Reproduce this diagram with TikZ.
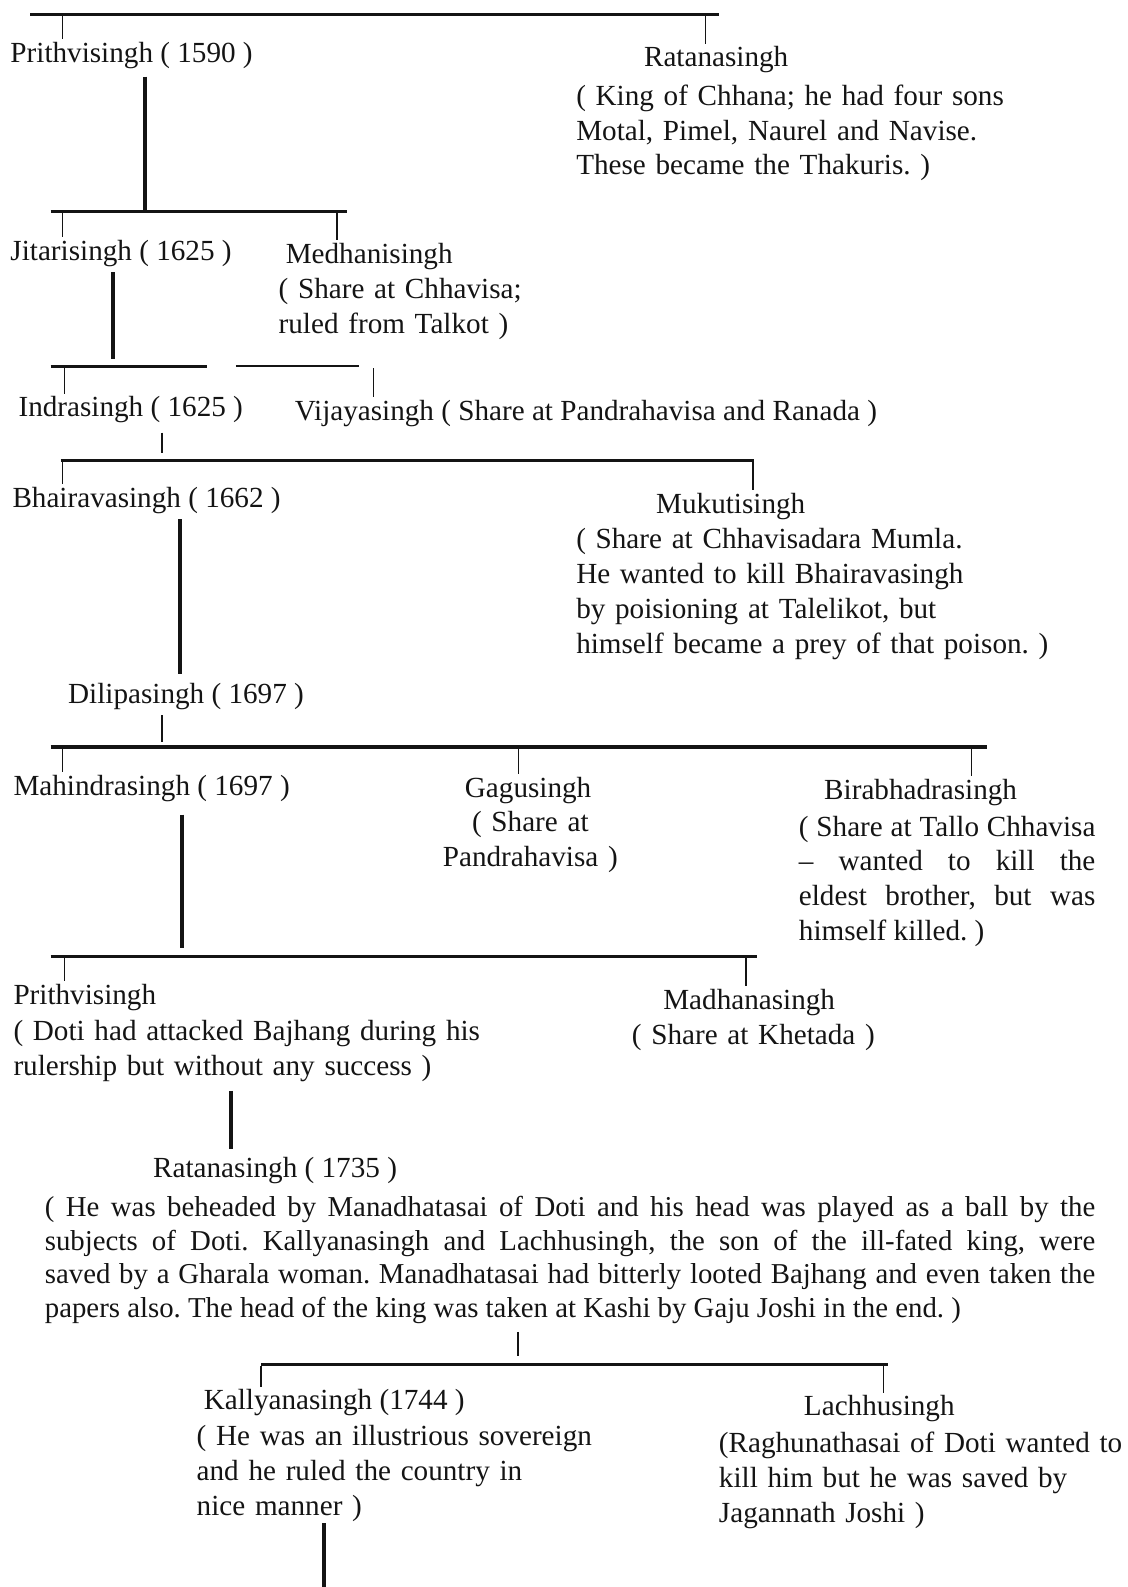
\documentclass[tikz,border=0pt]{standalone}
\usepackage{fontspec}
\setmainfont{Liberation Serif}
\usepackage{tikz}
\definecolor{ink}{HTML}{141414}
\frenchspacing

\begin{document}
\begin{tikzpicture}[x=0.02cm,y=-0.02cm,
  every node/.style={inner sep=0pt,text=ink,font=\fontsize{16.4}{19.6}\selectfont},
  who/.style={anchor=base west},
  blk/.style={anchor=base west,text width=#1,align=left},
  blk/.default=10cm,
  stem/.style={ink,line width=2.2pt},
  bar/.style={ink,line width=1.8pt},
  tick/.style={ink,line width=0.8pt,shorten <=1pt,shorten >=1.5pt}]
\useasboundingbox (0,0) rectangle (1114,1568);

\node[who] (p1) at (10,62) {Prithvisingh ( 1590 )};
\node[who] (r1) at (636,66) {Ratanasingh};
\node[blk] (r1d) at (569,104) {( King of Chhana; he had four sons\\Motal, Pimel, Naurel and Navise.\\These became the Thakuris. )};
\node[who] (j) at (10,257) {Jitarisingh ( 1625 )};
\node[who] (m1) at (282,260) {Medhanisingh};
\node[blk] (m1d) at (275,295) {( Share at Chhavisa;\\ruled from Talkot )};
\node[who] (ind) at (18,412) {Indrasingh ( 1625 )};
\node[who] (v) at (291,415) {Vijayasingh ( Share at Pandrahavisa and Ranada )};
\node[who] (bh) at (12,501) {Bhairavasingh ( 1662 )};
\node[who] (mu) at (648,507) {Mukutisingh};
\node[blk] (mud) at (569,542) {( Share at Chhavisadara Mumla.\\He wanted to kill Bhairavasingh\\by poisioning at Talelikot, but\\himself became a prey of that poison. )};
\node[who] (di) at (67,695) {Dilipasingh ( 1697 )};
\node[who] (ma) at (13,786) {Mahindrasingh ( 1697 )};
\node[who] (ga) at (459,788) {Gagusingh};
\node[anchor=base,text width=4cm,align=center] (gad) at (524,822) {( Share at\\Pandrahavisa )};
\node[who] (bi) at (814,790) {Birabhadrasingh};
\node[anchor=base west,text width=5.86cm,align=justify] (bid) at (789,826) {( Share at Tallo Chhavisa\linebreak -- wanted to kill the\linebreak eldest brother, but was\linebreak himself killed. )};
\node[who] (p2) at (13,992) {Prithvisingh};
\node[blk] (p2d) at (13,1028) {( Doti had attacked Bajhang during his\\rulership but without any success )};
\node[who] (md) at (655,997) {Madhanasingh};
\node[blk] (mdd) at (624,1032) {( Share at Khetada )};
\node[who] (r2) at (151,1163) {Ratanasingh ( 1735 )};
\node[anchor=base west,text width=20.76cm,align=justify,font=\fontsize{16.2}{18.9}\selectfont] (r2d) at (44,1202) {( He was beheaded by Manadhatasai of Doti and his head was played as a ball by the\linebreak subjects of Doti. Kallyanasingh and Lachhusingh, the son of the ill-fated king, were\linebreak saved by a Gharala woman. Manadhatasai had bitterly looted Bajhang and even taken the\linebreak papers also. The head of the king was taken at Kashi by Gaju Joshi in the end. )};
\node[who] (k) at (201,1393) {Kallyanasingh (1744 )};
\node[blk] (kd) at (194,1428) {( He was an illustrious sovereign\\and he ruled the country in\\nice manner )};
\node[who] (l) at (794,1399) {Lachhusingh};
\node[blk] (ld) at (710,1435) {(Raghunathasai of Doti wanted to\\kill him but he was saved by\\Jagannath Joshi )};

\coordinate (bar1w) at (30,14);   \coordinate (bar1e) at (710,14);
\coordinate (bar2w) at (50,209);  \coordinate (bar2e) at (343,209);
\coordinate (bar3w) at (50,362);  \coordinate (bar3e) at (205,362);
\coordinate (bar3x) at (233,362); \coordinate (bar3y) at (355,362);
\coordinate (bar4w) at (60,455);  \coordinate (bar4e) at (745,455);
\coordinate (bar5w) at (50,738);  \coordinate (bar5e) at (975,738);
\coordinate (bar6w) at (50,945);  \coordinate (bar6e) at (748,945);
\coordinate (bar7w) at (258,1348); \coordinate (bar7e) at (877,1348);
\coordinate (end) at (320,1568);

\foreach \b in {1,2,3,4,5,6,7}
  \draw[bar] (bar\b w) -- (bar\b e);
\draw[bar,line width=1.1pt] (bar3x) -- (bar3y);

\draw[stem,shorten <=4pt] (143,0 |- p1.south) -- (143,0 |- bar2w);
\draw[stem,shorten <=3pt,shorten >=4pt] (112,0 |- j.south) -- (112,0 |- bar3w);
\draw[tick,shorten <=5pt,shorten >=4.5pt] (160,0 |- ind.south) -- (160,0 |- bar4w);
\draw[stem,shorten <=3pt,shorten >=5pt] (178,0 |- bh.south) -- (178,0 |- di.north);
\draw[tick,shorten <=3pt,shorten >=3pt] (160,0 |- di.south) -- (160,0 |- bar5w);
\draw[stem,shorten <=7pt,shorten >=5pt] (180,0 |- ma.south) -- (180,0 |- bar6w);
\draw[stem,shorten <=5pt,shorten >=4pt] (228,0 |- p2d.south) -- (228,0 |- r2.north);
\draw[tick,line width=1.2pt,shorten <=4.5pt,shorten >=4.5pt] (512,0 |- r2d.south) -- (512,0 |- bar7w);
\draw[stem,shorten <=1pt] (end |- kd.south) -- (end);

\foreach \x/\b/\n in {62/bar1w/p1, 697/bar1w/r1, 62/bar2w/j, 333/bar2w/m1, 64/bar3w/ind, 369/bar3w/v,
  62/bar4w/bh, 744/bar4w/mu, 62/bar5w/ma, 512/bar5w/ga, 960/bar5w/bi, 64/bar6w/p2, 737/bar6w/md,
  258/bar7w/k, 873/bar7w/l}
  \draw[tick] (\x,0 |- \b) -- (\x,0 |- \n.north);
\end{tikzpicture}
\end{document}
